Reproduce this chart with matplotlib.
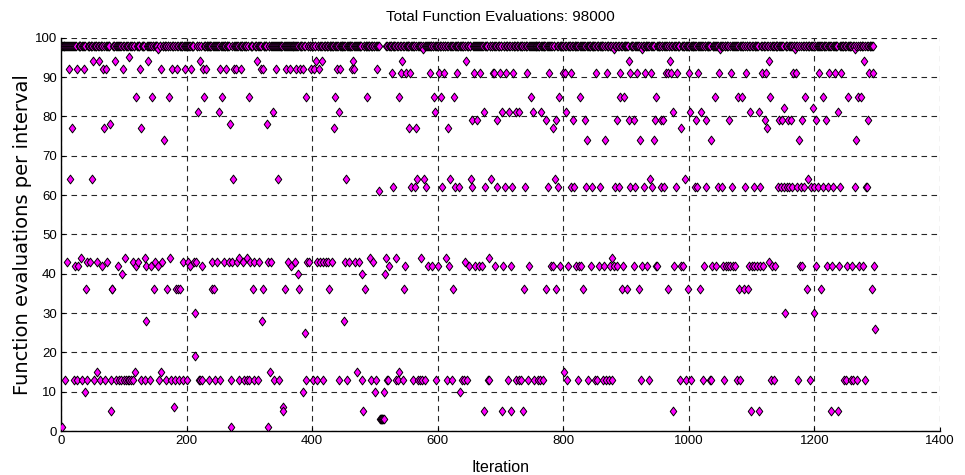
import numpy as np
import matplotlib
matplotlib.use("Agg")
import matplotlib.pyplot as plt
from matplotlib.path import Path

# ---------------- data (iteration indices per evaluation level) ----------------
top_value = 98
top_spans = [(2, 507), (517, 1294)]

it_97 = [155, 367, 426, 577, 602, 880, 926, 1050, 1169, 1264]
it_95 = [108]
it_94 = [51, 61, 86, 139, 201, 222, 312, 401, 406, 416, 465, 543, 645, 853, 904, 970, 1081, 1128, 1279]
it_92 = [13, 26, 36, 53, 67, 71, 99, 126, 159, 176, 185, 198, 207, 226, 231, 253, 263, 275, 278, 286,
         319, 322, 342, 358, 365, 375, 381, 386, 398, 403, 411, 439, 444, 455, 463, 467, 493, 504, 520]
it_91 = [527, 541, 550, 556, 572, 588, 602, 610, 630, 657, 667, 688, 690, 699, 708, 720, 742, 778, 799, 803,
         812, 840, 852, 869, 890, 907, 917, 930, 940, 964, 967, 971, 981, 1000, 1015, 1048, 1067, 1091, 1104,
         1117, 1123, 1166, 1171, 1207, 1224, 1233, 1242, 1287, 1293]
it_85 = [120, 145, 172, 228, 257, 300, 391, 422, 436, 488, 539, 585, 594, 605, 626, 748, 793, 827, 891, 897,
         948, 1042, 1059, 1078, 1085, 1129, 1185, 1213, 1254, 1270, 1274]
it_82 = [1152, 1198]
it_81 = [218, 252, 291, 337, 442, 596, 673, 703, 714, 724, 730, 736, 752, 759, 764, 804, 974, 1002, 1020,
         1098, 1111, 1227, 1237, 1247]
it_79 = [654, 663, 694, 773, 788, 816, 834, 885, 905, 912, 946, 956, 959, 1012, 1028, 1043, 1064, 1121,
         1144, 1149, 1158, 1162, 1180, 1202, 1219, 1285]
it_78 = [78, 269, 328]
it_77 = [18, 68, 127, 435, 554, 566, 617, 783, 988, 1124]
it_74 = [164, 244, 838, 866, 922, 945, 1035, 1055, 1136, 1176, 1258, 1267]
it_64 = [14, 49, 274, 330, 345, 454, 567, 578, 620, 653, 685, 787, 938, 994, 1190]
it_62 = [528, 558, 564, 582, 607, 627, 634, 655, 666, 675, 695, 707, 719, 739, 776, 792, 813, 817, 836, 846,
         859, 882, 888, 906, 914, 929, 942, 955, 960, 979, 1010, 1013, 1027, 1046, 1052, 1068, 1090, 1103,
         1114, 1142, 1146, 1151, 1156, 1160, 1165, 1172, 1178, 1184, 1195, 1200, 1206, 1214, 1222, 1230,
         1240, 1265, 1282, 1284]
it_61 = [507]
it_44 = [32, 102, 133, 173, 283, 297, 492, 518, 534, 573, 613, 681, 877]
it_43 = [9, 42, 46, 58, 74, 93, 115, 122, 149, 161, 194, 203, 212, 215, 236, 240, 249, 260, 268, 272, 280,
         290, 301, 308, 316, 330, 334, 347, 361, 373, 392, 395, 408, 413, 418, 422, 426, 432, 452, 459, 468,
         474, 481, 497, 644, 1127]
it_42 = [23, 27, 66, 90, 119, 136, 143, 154, 205, 225, 367, 450, 523, 548, 585, 591, 601, 618, 642, 650,
         659, 666, 671, 691, 704, 717, 746, 772, 781, 784, 795, 808, 821, 825, 828, 844, 857, 865, 875, 881,
         886, 895, 913, 925, 934, 947, 950, 976, 987, 990, 1024, 1037, 1043, 1055, 1059, 1063, 1066, 1071,
         1073, 1095, 1100, 1104, 1108, 1113, 1118, 1132, 1137, 1177, 1181, 1203, 1220, 1228, 1239, 1252,
         1260, 1271, 1277, 1295]
it_40 = [97, 378, 479, 516]
it_36 = [40, 81, 82, 148, 169, 183, 187, 190, 241, 244, 306, 321, 356, 379, 427, 484, 547, 625, 738, 772,
         789, 832, 894, 901, 921, 966, 998, 1018, 1080, 1088, 1094, 1188, 1210, 1292]
it_30 = [213, 480, 1153, 1199]
it_28 = [135, 320, 450]
it_26 = [1296]
it_25 = [389]
it_19 = [214]
it_15 = [57, 118, 160, 333, 471, 538, 801]
it_13 = [7, 20, 25, 33, 41, 53, 62, 70, 80, 88, 93, 96, 101, 103, 106, 109, 111, 114, 128, 134, 141, 156,
         167, 175, 181, 188, 195, 201, 219, 221, 224, 236, 246, 254, 271, 284, 291, 296, 299, 307, 314, 339,
         347, 390, 401, 407, 417, 443, 455, 480, 493, 502, 520, 521, 533, 536, 545, 561, 568, 572, 575, 580,
         598, 614, 622, 638, 642, 646, 680, 682, 712, 725, 729, 733, 744, 753, 759, 763, 767, 806, 824, 840,
         850, 853, 863, 868, 873, 878, 923, 937, 986, 995, 1004, 1023, 1034, 1036, 1056, 1076, 1081, 1131,
         1136, 1174, 1193, 1247, 1251, 1258, 1262, 1268, 1280]
it_10 = [39, 385, 500, 515, 636]
it_6 = [180, 353]
it_5 = [79, 354, 481, 674, 702, 716, 736, 975, 1099, 1112, 1227, 1238]
it_3 = [508, 509, 510, 511, 512, 513, 514]
it_1 = [1, 270, 329]

levels = {97: it_97, 95: it_95, 94: it_94, 92: it_92, 91: it_91, 85: it_85, 82: it_82, 81: it_81,
          79: it_79, 78: it_78, 77: it_77, 74: it_74, 64: it_64, 62: it_62, 61: it_61, 44: it_44,
          43: it_43, 42: it_42, 40: it_40, 36: it_36, 30: it_30, 28: it_28, 26: it_26, 25: it_25,
          19: it_19, 15: it_15, 13: it_13, 10: it_10, 6: it_6, 5: it_5, 3: it_3, 1: it_1}

values = {}
for lev, its in levels.items():
    for i in its:
        values[i] = lev
for a, b in top_spans:
    for i in range(a, b + 1):
        if i not in values:
            values[i] = top_value

iters = np.array(sorted(values))
evals = np.array([values[i] for i in iters])

# ---------------- plot ----------------
plt.rcParams['font.family'] = ['Liberation Sans', 'DejaVu Sans']

diamond = Path([(0, 1), (0.75, 0), (0, -1), (-0.75, 0), (0, 1)],
               [Path.MOVETO, Path.LINETO, Path.LINETO, Path.LINETO, Path.CLOSEPOLY])

fig = plt.figure(figsize=(9.65, 4.75), dpi=100)
ax = fig.add_axes([61 / 965, 1 - 431 / 475, 879 / 965, 393.3 / 475])

ax.plot(iters, evals, linestyle='none', marker=diamond, markersize=6.3,
        markerfacecolor='#ff00ff', markeredgecolor='black', markeredgewidth=0.7, zorder=3)

ax.set_xlim(0, 1400)
ax.set_ylim(0, 100)
ax.set_xticks(np.arange(0, 1401, 200))
ax.set_yticks(np.arange(0, 101, 10))
ax.tick_params(direction='in', length=3, width=0.8, labelsize=9.5, pad=3, colors='black')
ax.grid(True, linestyle=(0, (5, 4)), color='0.15', linewidth=0.8, zorder=0)
ax.set_axisbelow(True)
for s in ['top', 'right']:
    ax.spines[s].set_visible(False)
for s in ['left', 'bottom']:
    ax.spines[s].set_linewidth(1.0)
    ax.spines[s].set_color('black')

ax.set_title('Total Function Evaluations: 98000', fontsize=11, pad=12)
ax.set_xlabel('Iteration', fontsize=11.5, labelpad=9)
ax.set_ylabel('Function evaluations per interval', fontsize=14, labelpad=2,
              family=['DejaVu Sans'])

fig.savefig('out.png', dpi=100)
